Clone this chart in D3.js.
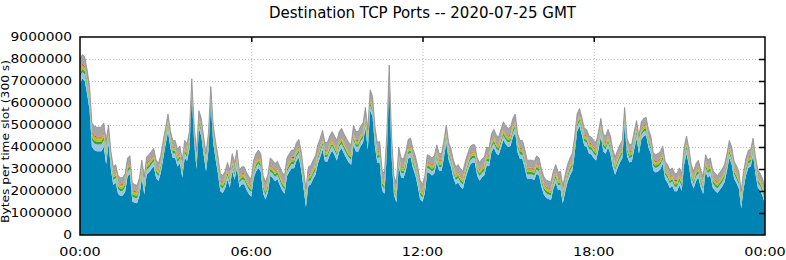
<!DOCTYPE html>
<html>
<head>
<meta charset="utf-8">
<script src="https://cdn.jsdelivr.net/npm/d3@7"></script>
<style>
  body { margin: 0; background: #fff; }
  svg text { font-family: "DejaVu Sans", sans-serif; fill: #000; }
</style>
</head>
<body>
<div id="graph"></div>
<script>
// total bytes per 5-min slot (top of the stack), in millions, slot 0 = 00:00
const topMB = [
  8.0, 8.2, 8.1, 7.5, 6.8, 5.1, 4.95, 4.9, 4.9, 4.9, 5.1, 4.3, 5.0, 3.8, 3.1, 3.2, 2.7, 2.6, 2.62, 2.8,
  3.5, 3.6, 2.35, 2.3, 2.25, 2.6, 3.4, 2.65, 3.55, 3.65, 3.8, 3.94, 3.4, 3.26, 3.65, 4.3, 4.9, 5.5, 4.75, 4.3,
  4.3, 3.9, 4.05, 3.4, 4.3, 4.15, 4.7, 7.1, 5.0, 3.8, 5.65, 5.3, 4.45, 3.7, 4.65, 6.75, 5.0, 4.25, 3.6, 2.8,
  2.7, 2.9, 3.3, 2.95, 3.7, 3.3, 3.86, 2.95, 3.1, 3.1, 2.85, 2.65, 2.55, 3.4, 3.7, 3.86, 3.7, 2.7, 2.42, 2.75,
  3.5, 3.4, 3.25, 3.35, 3.1, 2.85, 2.7, 3.5, 3.7, 3.86, 3.86, 4.2, 4.35, 3.8, 2.95, 2.1, 3.1, 3.15, 3.4, 3.6,
  4.1, 4.4, 4.75, 4.2, 4.2, 4.5, 4.7, 4.5, 4.3, 4.7, 4.85, 4.6, 4.4, 4.2, 4.1, 5.0, 4.7, 4.7, 4.95, 5.1,
  5.8, 4.8, 6.6, 6.3, 4.95, 4.2, 4.25, 2.95, 2.8, 4.6, 7.73, 4.5, 2.7, 2.35, 4.0, 3.5, 3.45, 3.8, 4.35, 4.4,
  3.9, 3.6, 3.1, 2.5, 2.3, 2.7, 3.65, 3.6, 3.5, 3.6, 4.1, 3.7, 3.7, 4.3, 5.0, 4.2, 3.9, 3.4, 3.1, 3.2,
  3.0, 2.9, 3.35, 3.7, 4.0, 4.1, 4.1, 3.5, 3.3, 3.45, 3.55, 4.0, 3.95, 4.6, 4.8, 4.55, 4.45, 4.8, 5.15, 4.95,
  4.85, 4.9, 5.3, 5.5, 4.6, 4.3, 4.3, 3.9, 3.4, 3.4, 3.4, 3.35, 3.6, 3.5, 3.0, 2.65, 2.5, 2.45, 2.4, 2.9,
  3.2, 2.85, 2.9, 2.25, 2.75, 3.2, 3.5, 3.7, 4.5, 5.5, 5.75, 5.35, 4.85, 4.8, 4.5, 4.45, 4.3, 4.2, 4.7, 5.3,
  4.6, 4.5, 4.8, 4.5, 3.9, 3.55, 3.85, 4.1, 4.3, 5.8, 4.4, 4.1, 4.15, 4.7, 5.2, 4.5, 5.15, 5.3, 5.35, 4.8,
  4.5, 3.75, 3.65, 3.7, 3.8, 4.05, 3.35, 3.2, 2.95, 3.05, 2.8, 2.8, 3.05, 2.8, 4.0, 4.5, 3.95, 3.2, 2.9, 3.25,
  3.4, 2.95, 2.65, 3.65, 3.4, 3.5, 2.95, 2.8, 2.7, 2.85, 3.0, 3.2, 3.7, 4.3, 4.0, 3.35, 3.15, 2.9, 2.0, 2.9,
  3.5, 3.85, 3.9, 4.4, 3.55, 2.95, 2.8, 2.55, 2.2
];

// thin port layers, one value per hour (00..24), in millions of bytes
const lightBlueMB = [0.30, 0.22, 0.22, 0.20, 0.20, 0.20, 0.20, 0.20, 0.20, 0.22, 0.22, 0.20, 0.18, 0.20, 0.20, 0.20, 0.20, 0.20, 0.20, 0.20, 0.20, 0.20, 0.20, 0.20, 0.20];
const greenMB = [0.14, 0.12, 0.12, 0.12, 0.12, 0.12, 0.12, 0.12, 0.12, 0.12, 0.12, 0.12, 0.12, 0.12, 0.12, 0.12, 0.12, 0.12, 0.12, 0.12, 0.12, 0.12, 0.12, 0.12, 0.12];
const yellowGreenMB = [0.10, 0.09, 0.09, 0.09, 0.09, 0.09, 0.09, 0.09, 0.09, 0.09, 0.09, 0.09, 0.09, 0.09, 0.09, 0.09, 0.09, 0.09, 0.09, 0.09, 0.09, 0.09, 0.09, 0.09, 0.09];
const orangeMB = [0.08, 0.06, 0.06, 0.06, 0.06, 0.06, 0.06, 0.06, 0.06, 0.06, 0.06, 0.06, 0.06, 0.06, 0.06, 0.06, 0.06, 0.06, 0.06, 0.06, 0.06, 0.06, 0.06, 0.06, 0.06];
const redMB = [0.05, 0.04, 0.04, 0.04, 0.04, 0.04, 0.04, 0.04, 0.04, 0.04, 0.04, 0.04, 0.04, 0.04, 0.04, 0.04, 0.04, 0.04, 0.04, 0.04, 0.04, 0.04, 0.04, 0.04, 0.04];
const grayMB = [0.42, 0.30, 0.28, 0.28, 0.30, 0.28, 0.30, 0.32, 0.35, 0.38, 0.40, 0.36, 0.30, 0.30, 0.32, 0.34, 0.30, 0.28, 0.30, 0.30, 0.30, 0.28, 0.28, 0.28, 0.28];

const yTicks = [0, 1000000, 2000000, 3000000, 4000000, 5000000, 6000000, 7000000, 8000000, 9000000];
const xTickSlots = [0, 72, 144, 216, 288];
const xTickLabels = ["00:00", "06:00", "12:00", "18:00", "00:00"];

const keys = ["blue", "lightBlue", "green", "yellowGreen", "orange", "red", "gray"];
const colors = {
  blue: "#0084b4",
  lightBlue: "#96c8e6",
  green: "#46a032",
  yellowGreen: "#8cc83c",
  orange: "#e69628",
  red: "#c8461e",
  gray: "#a5a5a5",
};

function Chart() {
  const width = 786, height = 260;
  const m = { left: 80, right: 21, top: 37, bottom: 25 };

  const rows = topMB.map((t, i) => {
    const h = Math.floor(i / 12);
    const thin = {
      lightBlue: lightBlueMB[h], green: greenMB[h], yellowGreen: yellowGreenMB[h],
      orange: orangeMB[h], red: redMB[h], gray: grayMB[h],
    };
    const rest = d3.sum(Object.values(thin));
    const row = { slot: i, blue: (t - rest) * 1e6 };
    Object.keys(thin).forEach((k) => (row[k] = thin[k] * 1e6));
    return row;
  });

  const series = d3.stack().keys(keys)(rows);

  const svg = d3.select("#graph").append("svg")
    .attr("width", width).attr("height", height);

  const x = d3.scaleLinear().domain([0, 288]).range([m.left, width - m.right]);
  const y = d3.scaleLinear().domain([0, 9000000]).range([height - m.bottom, m.top]);

  // grid
  svg.append("g").selectAll("line").data(yTicks.slice(1, -1)).enter().append("line")
    .attr("x1", m.left).attr("x2", width - m.right)
    .attr("y1", (d) => y(d) + 0.5).attr("y2", (d) => y(d) + 0.5)
    .attr("stroke", "#bbb").attr("stroke-dasharray", "1,2");
  svg.append("g").selectAll("line").data(xTickSlots.slice(1, -1)).enter().append("line")
    .attr("x1", (d) => x(d) + 0.5).attr("x2", (d) => x(d) + 0.5)
    .attr("y1", m.top).attr("y2", height - m.bottom)
    .attr("stroke", "#bbb").attr("stroke-dasharray", "1,2");

  const area = d3.area()
    .x((d) => x(d.data.slot))
    .y0((d) => y(d[0]))
    .y1((d) => y(d[1]));

  svg.append("g").selectAll("path").data(series).enter().append("path")
    .attr("d", area)
    .attr("fill", (d) => colors[d.key]);

  // darker edge on top of the stack
  svg.append("path")
    .datum(series[series.length - 1])
    .attr("d", d3.line().x((d) => x(d.data.slot)).y((d) => y(d[1])))
    .attr("fill", "none").attr("stroke", "#8c8c8c").attr("stroke-width", 0.8);

  // frame
  svg.append("rect")
    .attr("x", m.left).attr("y", m.top)
    .attr("width", width - m.left - m.right).attr("height", height - m.top - m.bottom)
    .attr("fill", "none").attr("stroke", "#000").attr("stroke-width", 1.5);

  // y ticks on the right edge, pointing inwards
  svg.append("g").selectAll("line").data(yTicks.slice(1, -1)).enter().append("line")
    .attr("x1", width - m.right - 6).attr("x2", width - m.right)
    .attr("y1", (d) => y(d) + 0.5).attr("y2", (d) => y(d) + 0.5)
    .attr("stroke", "#000").attr("stroke-width", 1.5);
  // x ticks on the top edge
  svg.append("g").selectAll("line").data(xTickSlots.slice(1, -1)).enter().append("line")
    .attr("x1", (d) => x(d) + 0.5).attr("x2", (d) => x(d) + 0.5)
    .attr("y1", m.top).attr("y2", m.top + 5)
    .attr("stroke", "#000").attr("stroke-width", 1.5);

  // the source font is wide and low, so labels get a horizontal stretch
  const stretch = 1.2;
  svg.append("g").selectAll("text").data(yTicks).enter().append("text")
    .attr("transform", (d) => `translate(${m.left - 8},${y(d) + 4}) scale(${stretch},1)`)
    .attr("text-anchor", "end")
    .style("font-size", "11.5px")
    .text((d) => d3.format("d")(d));

  svg.append("g").selectAll("text").data(xTickSlots).enter().append("text")
    .attr("transform", (d) => `translate(${x(d)},${height - 4}) scale(${stretch},1)`)
    .attr("text-anchor", "middle")
    .style("font-size", "12px")
    .text((d, i) => xTickLabels[i]);

  svg.append("text")
    .attr("transform", `translate(9,${141.5 + 81.5}) rotate(-90)`)
    .attr("textLength", 163).attr("lengthAdjust", "spacingAndGlyphs")
    .style("font-size", "10px")
    .text("Bytes per time slot (300 s)");

  svg.append("text")
    .attr("x", (m.left + width - m.right) / 2).attr("y", 18)
    .attr("text-anchor", "middle").style("font-size", "15px")
    .text("Destination TCP Ports -- 2020-07-25 GMT");
}

Chart();
</script>
</body>
</html>
